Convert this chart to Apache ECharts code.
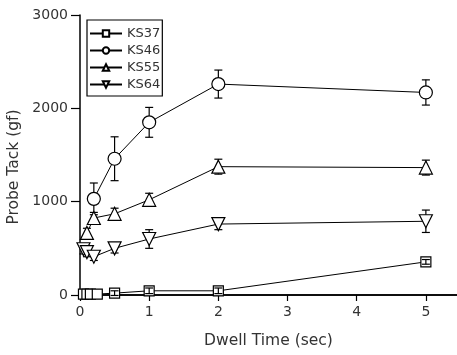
<!DOCTYPE html>
<html><head><meta charset="utf-8">
<script src="https://cdn.jsdelivr.net/npm/echarts@6/dist/echarts.min.js"></script>
<style>html,body{margin:0;padding:0;background:#fff}#c{width:457px;height:355px}</style>
</head><body><div id="c"></div>
<script>
const xTicks = [0, 1, 2, 3, 4, 5];
const yTicks = [0, 1000, 2000, 3000];
const xTitle = 'Dwell Time (sec)';
const yTitle = 'Probe Tack (gf)';

const ks37X = [0.05, 0.1, 0.15, 0.25, 0.5, 1, 2, 5];
const ks37Y = [10, 10, 10, 10, 20, 45, 45, 355];
const ks37E = [0, 0, 0, 0, 25, 30, 30, 25];

const ks46X = [0.2, 0.5, 1, 2, 5];
const ks46Y = [1030, 1460, 1850, 2260, 2170];
const ks46E = [170, 235, 160, 150, 135];

const ks55X = [0.1, 0.2, 0.5, 1, 2, 5];
const ks55Y = [665, 825, 870, 1020, 1375, 1365];
const ks55E = [50, 60, 60, 70, 80, 80];

const ks64X = [0.05, 0.1, 0.2, 0.5, 1, 2, 5];
const ks64Y = [490, 460, 410, 500, 600, 760, 790];
const ks64E = [50, 50, 40, 50, 100, 60, 120];

const downTri = 'path://M0,0 L10,0 L5,9 Z';
const seriesDefs = [
  {name: 'KS37', x: ks37X, y: ks37Y, e: ks37E, symbol: 'rect', size: 10, errTop: true},
  {name: 'KS46', x: ks46X, y: ks46Y, e: ks46E, symbol: 'circle', size: 13},
  {name: 'KS55', x: ks55X, y: ks55Y, e: ks55E, symbol: 'triangle', size: 13},
  {name: 'KS64', x: ks64X, y: ks64Y, e: ks64E, symbol: downTri, size: 13}
];

const font = '"DejaVu Sans", Verdana, sans-serif';
const series = [];
seriesDefs.forEach(d => {
  const pts = d.x.map((v, i) => [v, d.y[i]]);
  const err = d.x.map((v, i) => [v, d.y[i] - d.e[i], d.y[i] + d.e[i]]);
  series.push({
    type: 'custom', name: d.name + '_err', data: err, z: d.errTop ? 5 : 1, silent: true,
    renderItem: function (params, api) {
      const x = api.value(0);
      const lo = api.coord([x, api.value(1)]);
      const hi = api.coord([x, api.value(2)]);
      if (Math.abs(hi[1] - lo[1]) < 1) return null;
      const w = 4;
      const st = {stroke: '#000', lineWidth: 1.2};
      return {type: 'group', children: [
        {type: 'line', shape: {x1: lo[0], y1: lo[1], x2: hi[0], y2: hi[1]}, style: st},
        {type: 'line', shape: {x1: lo[0] - w, y1: lo[1], x2: lo[0] + w, y2: lo[1]}, style: st},
        {type: 'line', shape: {x1: hi[0] - w, y1: hi[1], x2: hi[0] + w, y2: hi[1]}, style: st}
      ]};
    }
  });
  series.push({
    type: 'line', name: d.name, data: pts, z: 3,
    symbol: d.symbol, symbolSize: d.size, showAllSymbol: true,
    lineStyle: {color: '#000', width: 1},
    itemStyle: {color: '#fff', borderColor: '#000', borderWidth: 1.2},
    emphasis: {disabled: true}
  });
});

const chart = echarts.init(document.getElementById('c'), null, {renderer: 'canvas'});
chart.setOption({
  animation: false,
  backgroundColor: '#fff',
  grid: {left: 80, top: 15, right: 0, bottom: 60, containLabel: false},
  legend: {
    left: 87, top: 20, orient: 'vertical',
    data: seriesDefs.map(d => d.name),
    borderColor: '#000', borderWidth: 1.2, padding: [7, 2, 5, 2],
    itemWidth: 32, itemHeight: 8, itemGap: 4,
    textStyle: {fontFamily: font, fontSize: 13, color: '#333'}
  },
  xAxis: [{
    type: 'value', min: 0, max: 5.45, interval: 1,
    axisLine: {onZero: false, lineStyle: {color: '#000', width: 1.5}},
    axisTick: {show: true, length: 6, lineStyle: {color: '#000', width: 1.2}},
    axisLabel: {fontFamily: font, fontSize: 14, color: '#333', margin: 10, showMaxLabel: false,
      formatter: v => (xTicks.indexOf(v) >= 0 ? String(v) : '')},
    splitLine: {show: false},
    name: xTitle, nameLocation: 'middle', nameGap: 38,
    nameTextStyle: {fontFamily: font, fontSize: 15.5, color: '#333'}
  }, {
    type: 'value', position: 'top', min: 0, max: 5.45,
    axisLine: {show: true, lineStyle: {color: '#000', width: 1.5}},
    axisTick: {show: false}, axisLabel: {show: false}, splitLine: {show: false}
  }],
  yAxis: {
    type: 'value', min: 0, max: 3000, interval: 1000,
    axisLine: {show: true, onZero: false, lineStyle: {color: '#000', width: 1.5}},
    axisTick: {show: true, length: 9, lineStyle: {color: '#000', width: 1.2}},
    axisLabel: {fontFamily: font, fontSize: 14, color: '#333', margin: 12,
      formatter: v => (yTicks.indexOf(v) >= 0 ? String(v) : '')},
    splitLine: {show: false}
  },
  graphic: [{
    type: 'text', x: 14, y: 167, rotation: Math.PI / 2,
    style: {text: yTitle, fontFamily: font, fontSize: 15.5, fill: '#333', align: 'center', verticalAlign: 'middle'}
  }],
  series: series
});
</script></body></html>
